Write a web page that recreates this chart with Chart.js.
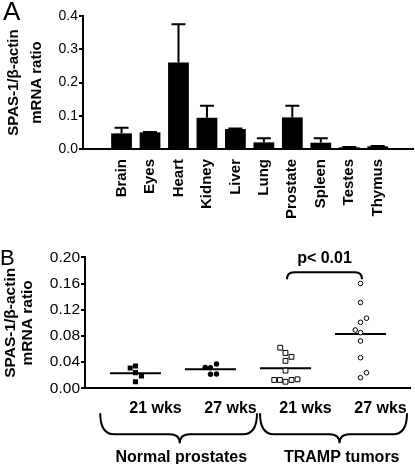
<!DOCTYPE html>
<html>
<head>
<meta charset="utf-8">
<script src="https://cdn.jsdelivr.net/npm/chart.js@4.4.1/dist/chart.umd.min.js"></script>
<style>
  html, body { margin: 0; padding: 0; background: #fff; }
  #wrap { position: relative; width: 415px; height: 464px; font-family: 'Liberation Sans', Arial, sans-serif; }
  canvas { position: absolute; left: 0; }
  #chartA { top: 0; }
  #chartB { top: 235px; }
  .panel { position: absolute; line-height: 1; color: #000; }
</style>
</head>
<body>
<div id="wrap">
  <canvas id="chartA" width="415" height="235"></canvas>
  <canvas id="chartB" width="415" height="229"></canvas>
  <div class="panel" style="left:3px;top:-2px;font-size:26px">A</div>
  <div class="panel" style="left:0px;top:247px;font-size:22px">B</div>
</div>
<script>
// panel A - tissue distribution
const organs = ['Brain', 'Eyes', 'Heart', 'Kidney', 'Liver', 'Lung', 'Prostate', 'Spleen', 'Testes', 'Thymus'];
const organMean = [0.047, 0.050, 0.260, 0.094, 0.060, 0.020, 0.095, 0.019, 0.005, 0.008];
const organErr = [0.017, 0.001, 0.115, 0.036, 0.002, 0.012, 0.035, 0.013, 0.001, 0.001];
const ticksA = [0, 0.1, 0.2, 0.3, 0.4];

// panel B - prostates vs TRAMP tumors
const groupLabels = ['21 wks', '27 wks', '21 wks', '27 wks'];
const groupNames = ['Normal prostates', 'TRAMP tumors'];
const normal21 = [0.031, 0.034, 0.024, 0.019, 0.010];
const normal21Jit = [-0.07, 0, 0, 0.08, 0];
const normal27 = [0.032, 0.0315, 0.037, 0.0214, 0.0218];
const normal27Jit = [-0.07, 0, 0.08, 0, 0.08];
const tramp21 = [0.062, 0.054, 0.048, 0.042, 0.027, 0.0127, 0.0127, 0.010, 0.0127, 0.0137];
const tramp21Jit = [-0.07, 0, 0.08, 0, 0, -0.15, -0.075, 0, 0.08, 0.16];
const tramp27 = [0.160, 0.131, 0.1007, 0.107, 0.089, 0.085, 0.0722, 0.0467, 0.0162, 0.0238];
const tramp27Jit = [0, 0, 0, 0.08, -0.07, 0, 0, 0, 0, 0.08];
const groupMeans = [0.023, 0.029, 0.0305, 0.083];
const ticksB = [0, 0.04, 0.08, 0.12, 0.16, 0.20];
const pValue = 'p< 0.01';

Chart.defaults.font.family = "'Liberation Sans', Arial, sans-serif";
Chart.defaults.color = '#000';

const yTitle = ['SPAS-1/β-actin', 'mRNA ratio'];

const errorBars = {
  id: 'errorBars',
  afterDatasetsDraw(chart) {
    const { ctx, scales: { x, y } } = chart;
    ctx.save();
    ctx.strokeStyle = '#000';
    ctx.lineWidth = 2;
    organMean.forEach((m, i) => {
      const px = x.getPixelForValue(i + 1);
      const top = y.getPixelForValue(m + organErr[i]);
      ctx.beginPath();
      ctx.moveTo(px, y.getPixelForValue(m));
      ctx.lineTo(px, top);
      ctx.moveTo(px - 7, top);
      ctx.lineTo(px + 7, top);
      ctx.stroke();
    });
    ctx.restore();
  }
};

new Chart(document.getElementById('chartA'), {
  type: 'bar',
  data: {
    datasets: [{
      data: organMean.map((v, i) => ({ x: i + 1, y: v })),
      backgroundColor: '#000',
      barPercentage: 0.73,
      categoryPercentage: 1
    }]
  },
  options: {
    responsive: false,
    animation: false,
    devicePixelRatio: 1,
    layout: { padding: { top: 16, right: 2, left: 0, bottom: 0 } },
    plugins: { legend: { display: false }, tooltip: { enabled: false } },
    scales: {
      x: {
        type: 'linear',
        min: 0.225,
        max: 10.66,
        afterBuildTicks: ax => { ax.ticks = organs.map((_, i) => ({ value: i + 1 })); },
        afterFit: ax => { ax.height = 86; },
        ticks: {
          callback: v => organs[v - 1],
          minRotation: 90, maxRotation: 90, autoSkip: false, padding: 10,
          font: { size: 15, weight: 'bold' }
        },
        grid: { display: false, drawTicks: false },
        border: { color: '#000', width: 2 }
      },
      y: {
        min: 0,
        max: 0.4,
        afterBuildTicks: ax => { ax.ticks = ticksA.map(v => ({ value: v })); },
        afterFit: ax => { ax.width = 83; },
        ticks: { callback: v => v.toFixed(1), padding: 1, font: { size: 14 } },
        grid: { drawOnChartArea: false, tickLength: 4, color: '#000', lineWidth: 2 },
        border: { color: '#000', width: 2 },
        title: {
          display: true, text: yTitle,
          font: { size: 15, weight: 'bold', lineHeight: 1.5 },
          padding: { top: 3, bottom: 0 }
        }
      }
    }
  },
  plugins: [errorBars]
});

function drawBrace(ctx, x0, x1, xm, yTop, yMid, yTip) {
  ctx.beginPath();
  ctx.moveTo(x0, yTop);
  ctx.quadraticCurveTo(x0, yMid, x0 + 14, yMid);
  ctx.lineTo(xm - 10, yMid);
  ctx.quadraticCurveTo(xm, yMid, xm, yTip);
  ctx.quadraticCurveTo(xm, yMid, xm + 10, yMid);
  ctx.lineTo(x1 - 14, yMid);
  ctx.quadraticCurveTo(x1, yMid, x1, yTop);
  ctx.stroke();
}

const annotations = {
  id: 'annotations',
  afterDraw(chart) {
    const { ctx, chartArea, scales: { x } } = chart;
    const base = chartArea.bottom;
    ctx.save();
    ctx.strokeStyle = '#000';
    ctx.fillStyle = '#000';
    ctx.lineWidth = 2;
    // group braces below the axis labels
    const spans = [[0.53, 2.62, 1.59], [2.66, 4.62, 3.72]];
    spans.forEach(([a, b, m]) => {
      drawBrace(ctx, x.getPixelForValue(a), x.getPixelForValue(b), x.getPixelForValue(m),
        base + 25, base + 46, base + 55);
    });
    ctx.font = "bold 16px 'Liberation Sans', Arial, sans-serif";
    ctx.textAlign = 'center';
    ctx.textBaseline = 'middle';
    ctx.fillText(groupNames[0], x.getPixelForValue(1.61), base + 69);
    ctx.fillText(groupNames[1], x.getPixelForValue(3.75), base + 69);
    // significance bracket
    const p0 = x.getPixelForValue(3.02), p1 = x.getPixelForValue(4.02);
    const yb = chartArea.top + 15;
    ctx.beginPath();
    ctx.moveTo(p0, yb + 7);
    ctx.quadraticCurveTo(p0, yb, p0 + 7, yb);
    ctx.lineTo(p1 - 7, yb);
    ctx.quadraticCurveTo(p1, yb, p1, yb + 7);
    ctx.stroke();
    ctx.fillText(pValue, x.getPixelForValue(3.52), chartArea.top + 1);
    ctx.restore();
  }
};

const pts = (vals, jit, g) => vals.map((v, i) => ({ x: g + jit[i], y: v }));

const meanLines = groupMeans.map((m, i) => ({
  type: 'line',
  data: [{ x: i + 1 - 0.34, y: m }, { x: i + 1 + 0.34, y: m }],
  borderColor: '#000',
  borderWidth: 2,
  pointRadius: 0,
  showLine: true,
  order: 2
}));

new Chart(document.getElementById('chartB'), {
  type: 'scatter',
  data: {
    datasets: [
      { data: pts(normal21, normal21Jit, 1), pointStyle: 'rect', pointRadius: 3.6, backgroundColor: '#000', borderColor: '#000', borderWidth: 0, order: 1 },
      { data: pts(normal27, normal27Jit, 2), pointStyle: 'circle', pointRadius: 2.7, backgroundColor: '#000', borderColor: '#000', borderWidth: 0, order: 1 },
      { data: pts(tramp21, tramp21Jit, 3), pointStyle: 'rect', pointRadius: 3.4, backgroundColor: '#fff', borderColor: '#000', borderWidth: 1, order: 1 },
      { data: pts(tramp27, tramp27Jit, 4), pointStyle: 'circle', pointRadius: 2.3, backgroundColor: '#fff', borderColor: '#000', borderWidth: 1, order: 1 },
      ...meanLines
    ]
  },
  options: {
    responsive: false,
    animation: false,
    devicePixelRatio: 1,
    layout: { padding: { top: 22.3, right: 5, left: 0, bottom: 0 } },
    plugins: { legend: { display: false }, tooltip: { enabled: false } },
    scales: {
      x: {
        type: 'linear',
        min: 0.327,
        max: 4.66,
        afterBuildTicks: ax => { ax.ticks = groupLabels.map((_, i) => ({ value: i + 1 })); },
        afterFit: ax => { ax.height = 75.7; },
        ticks: {
          callback: v => groupLabels[v - 1],
          labelOffset: 20, padding: 11, minRotation: 0, maxRotation: 0, autoSkip: false,
          font: { size: 16, weight: 'bold' }
        },
        grid: { display: false, drawTicks: false },
        border: { color: '#000', width: 2 }
      },
      y: {
        min: 0,
        max: 0.2,
        afterBuildTicks: ax => { ax.ticks = ticksB.map(v => ({ value: v })); },
        afterFit: ax => { ax.width = 85; },
        ticks: { callback: v => v.toFixed(2), padding: 1, font: { size: 15.5 } },
        grid: { drawOnChartArea: false, tickLength: 4, color: '#000', lineWidth: 2 },
        border: { color: '#000', width: 2 },
        title: {
          display: true, text: yTitle,
          font: { size: 15.5, weight: 'bold', lineHeight: 1.1 },
          padding: { top: 2, bottom: 0 }
        }
      }
    }
  },
  plugins: [annotations]
});
</script>
</body>
</html>
